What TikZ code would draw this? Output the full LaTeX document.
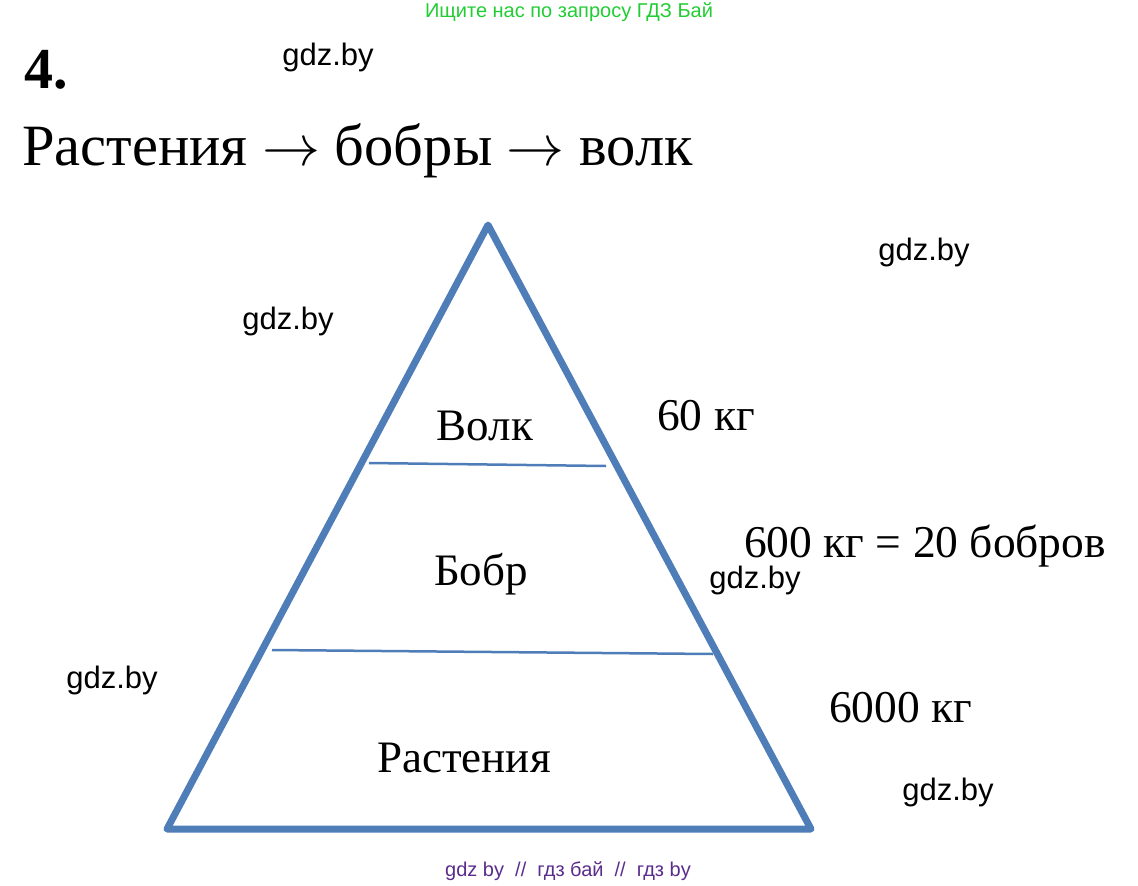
\documentclass[tikz,border=0pt]{standalone}
\usepackage{fontspec}
\usepackage{graphicx}
\setmainfont{Liberation Serif}
\newfontfamily\wmfont{Liberation Sans}
\usetikzlibrary{positioning}

\definecolor{pyrblue}{HTML}{4F7DB8}
\definecolor{hintgreen}{HTML}{22CC33}
\definecolor{footviolet}{HTML}{5A2D8C}

\newcommand{\chainarrow}{{\fontsize{10}{12}\selectfont\scalebox{5.8}{$\rightarrow$}}}

\begin{document}
\begin{tikzpicture}[x=1pt,y=-1pt,
    side/.style={draw=pyrblue,line width=7pt,line join=round,line cap=round},
    layer/.style={draw=pyrblue,line width=2.5pt},
    level/.style={font=\fontsize{45}{50}\selectfont,anchor=base},
    mass/.style={font=\fontsize{45.5}{50}\selectfont,anchor=base west},
    wm/.style={font=\wmfont\fontsize{31}{36}\selectfont}]
  \useasboundingbox (0,0) rectangle (1138,886);

  % header and footer
  \node[font=\wmfont\fontsize{20}{22}\selectfont,text=hintgreen] (hint) at (569,12) {Ищите нас по запросу ГДЗ Бай};
  \node[font=\wmfont\fontsize{20}{22}\selectfont,text=footviolet] (foot) at (568,871) {gdz by \ // \ гдз бай \ // \ гдз by};

  % task
  \node[font=\bfseries\fontsize{58}{64}\selectfont,anchor=base west,inner sep=0pt] (num) at (24,88) {4.};
  \node[font=\fontsize{58.5}{64}\selectfont,anchor=base west,inner sep=0pt] (chain) at (22,165) {Растения \chainarrow{} бобры \chainarrow{} волк};

  % pyramid
  \coordinate (apex) at (488,225);
  \coordinate (bl) at (167,829);
  \coordinate (br) at (811,829);
  \draw[side] (apex) -- (br) -- (bl) -- cycle;

  \coordinate (l1a) at (369,463);
  \coordinate (l1b) at (606,466);
  \coordinate (l2a) at (272,650);
  \coordinate (l2b) at (713,654);
  \draw[layer] (l1a) -- (l1b);
  \draw[layer] (l2a) -- (l2b);

  \node[level] (wolf) at (485,440) {Волк};
  \node[level] (beaver) at (481,585) {Бобр};
  \node[level] (plants) at (464,772) {Растения};

  \node[mass,inner sep=0pt] (m1) at (657,430) {60 кг};
  \node[mass,inner sep=0pt] (m2) at (744,557) {600 кг = 20 бобров};
  \node[mass,inner sep=0pt] (m3) at (829,722) {6000 кг};

  % watermarks
  \node[wm] (w1) at (328,57) {gdz.by};
  \node[wm] (w2) at (924,252) {gdz.by};
  \node[wm] (w3) at (288,321) {gdz.by};
  \node[wm] (w4) at (755,580) {gdz.by};
  \node[wm] (w5) at (112,680) {gdz.by};
  \node[wm] (w6) at (948,792) {gdz.by};
\end{tikzpicture}
\end{document}
